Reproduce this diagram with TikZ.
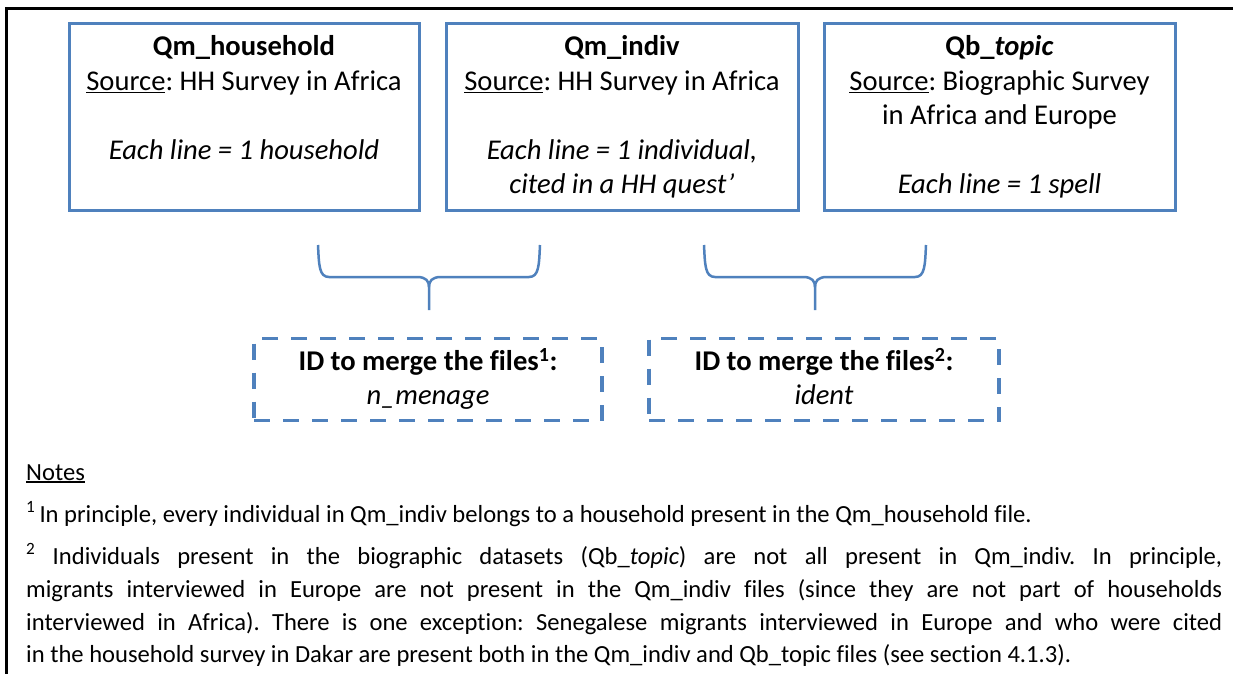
\documentclass[tikz,border=0pt]{standalone}
\usepackage{fontspec}
\setmainfont{Carlito}[Ligatures=NoCommon]
\frenchspacing
\definecolor{boxblue}{HTML}{4F81BD}
% thick underline as used for "Source" and "Notes"
\newcommand{\undl}[1]{\setbox0\hbox{#1}\rlap{\rule[-2.8pt]{\wd0}{1.5pt}}\box0}
\begin{document}
\begin{tikzpicture}[x=1pt,y=-1pt,
  filebox/.style={draw=boxblue, line width=3pt, minimum height=187pt, inner sep=0pt},
  idbox/.style={draw=boxblue, line width=3.5pt, dash pattern=on 16pt off 13pt,
    minimum height=82pt, inner sep=0pt},
  boxtext/.style={anchor=north, inner sep=0pt, align=center,
    font=\fontsize{28.6}{34.5}\selectfont},
  notetext/.style={anchor=base west, inner sep=0pt,
    font=\fontsize{24.6}{30}\selectfont},
  bracepath/.style={draw=boxblue, line width=2.5pt},
  mergebrace/.pic={
    \path[bracepath] (-111,0) .. controls (-110,20) and (-110,32) .. (-100,32)
      -- (-12,32) .. controls (-3,32) and (0,36) .. (0,42) -- (0,65);
    \path[bracepath] (0,42) .. controls (0,36) and (3,32) .. (12,32)
      -- (100,32) .. controls (110,32) and (110,20) .. (111,0);
  }]
\useasboundingbox (0,0) rectangle (1233,674);
\fill[white] (0,0) rectangle (1233,674);

% frame around the figure
\draw[line width=2.5pt] (6.5,674) -- (6.5,8.5) -- (1233,8.5);

% data files
\node[filebox, minimum width=350pt] (hh) at (244,117) {};
\node[filebox, minimum width=352pt] (ind) at (622,117) {};
\node[filebox, minimum width=351pt] (bio) at (999.5,117) {};

\node[boxtext] (hhtxt) at (244,31.5) {\strut\textbf{Qm\_household}\\
  \undl{Source}: HH Survey in Africa\\[34.5pt]
  \textit{Each line = 1 household}};
\node[boxtext] (indtxt) at (622,31.5) {\strut\textbf{Qm\_indiv}\\
  \undl{Source}: HH Survey in Africa\\[34.5pt]
  \textit{Each line = 1 individual,}\\
  \textit{cited in a HH quest’}};
\node[boxtext] (biotxt) at (999.5,31.5) {\strut\textbf{Qb\_\textit{topic}}\\
  \undl{Source}: Biographic Survey\\
  in Africa and Europe\\[34.5pt]
  \textit{Each line = 1 spell}};

% braces grouping the files
\pic at (429,245) {mergebrace};
\pic at (815,245) {mergebrace};

% merge keys
\node[idbox, minimum width=348pt] (id1) at (428,379.5) {};
\node[idbox, minimum width=350pt] (id2) at (824,379.5) {};
\node[boxtext] (id1txt) at (428,345.85) {\strut\textbf{ID to merge the files\textsuperscript{1}:}\\
  \textit{n\_menage}};
\node[boxtext] (id2txt) at (824,345.85) {\strut\textbf{ID to merge the files\textsuperscript{2}:}\\
  \textit{ident}};

% notes
\node[notetext] (notes) at (26,480) {\undl{Notes}};
\node[notetext] (n1) at (26,522) {\textsuperscript{1}\,In principle, every individual in Qm\_indiv belongs to a household present in the Qm\_household file.};
\node[notetext] (n2) at (26,564) {\makebox[1196pt][s]{\textsuperscript{2} Individuals present in the biographic datasets (Qb\_\textit{topic}) are not all present in Qm\_indiv. In principle,}};
\node[notetext] (n3) at (26,597) {\makebox[1196pt][s]{migrants interviewed in Europe are not present in the Qm\_indiv files (since they are not part of households}};
\node[notetext] (n4) at (26,630) {\makebox[1196pt][s]{interviewed in Africa). There is one exception: Senegalese migrants interviewed in Europe and who were cited}};
\node[notetext] (n5) at (26,662) {in the household survey in Dakar are present both in the Qm\_indiv and Qb\_topic files (see section 4.1.3).};
\end{tikzpicture}
\end{document}
